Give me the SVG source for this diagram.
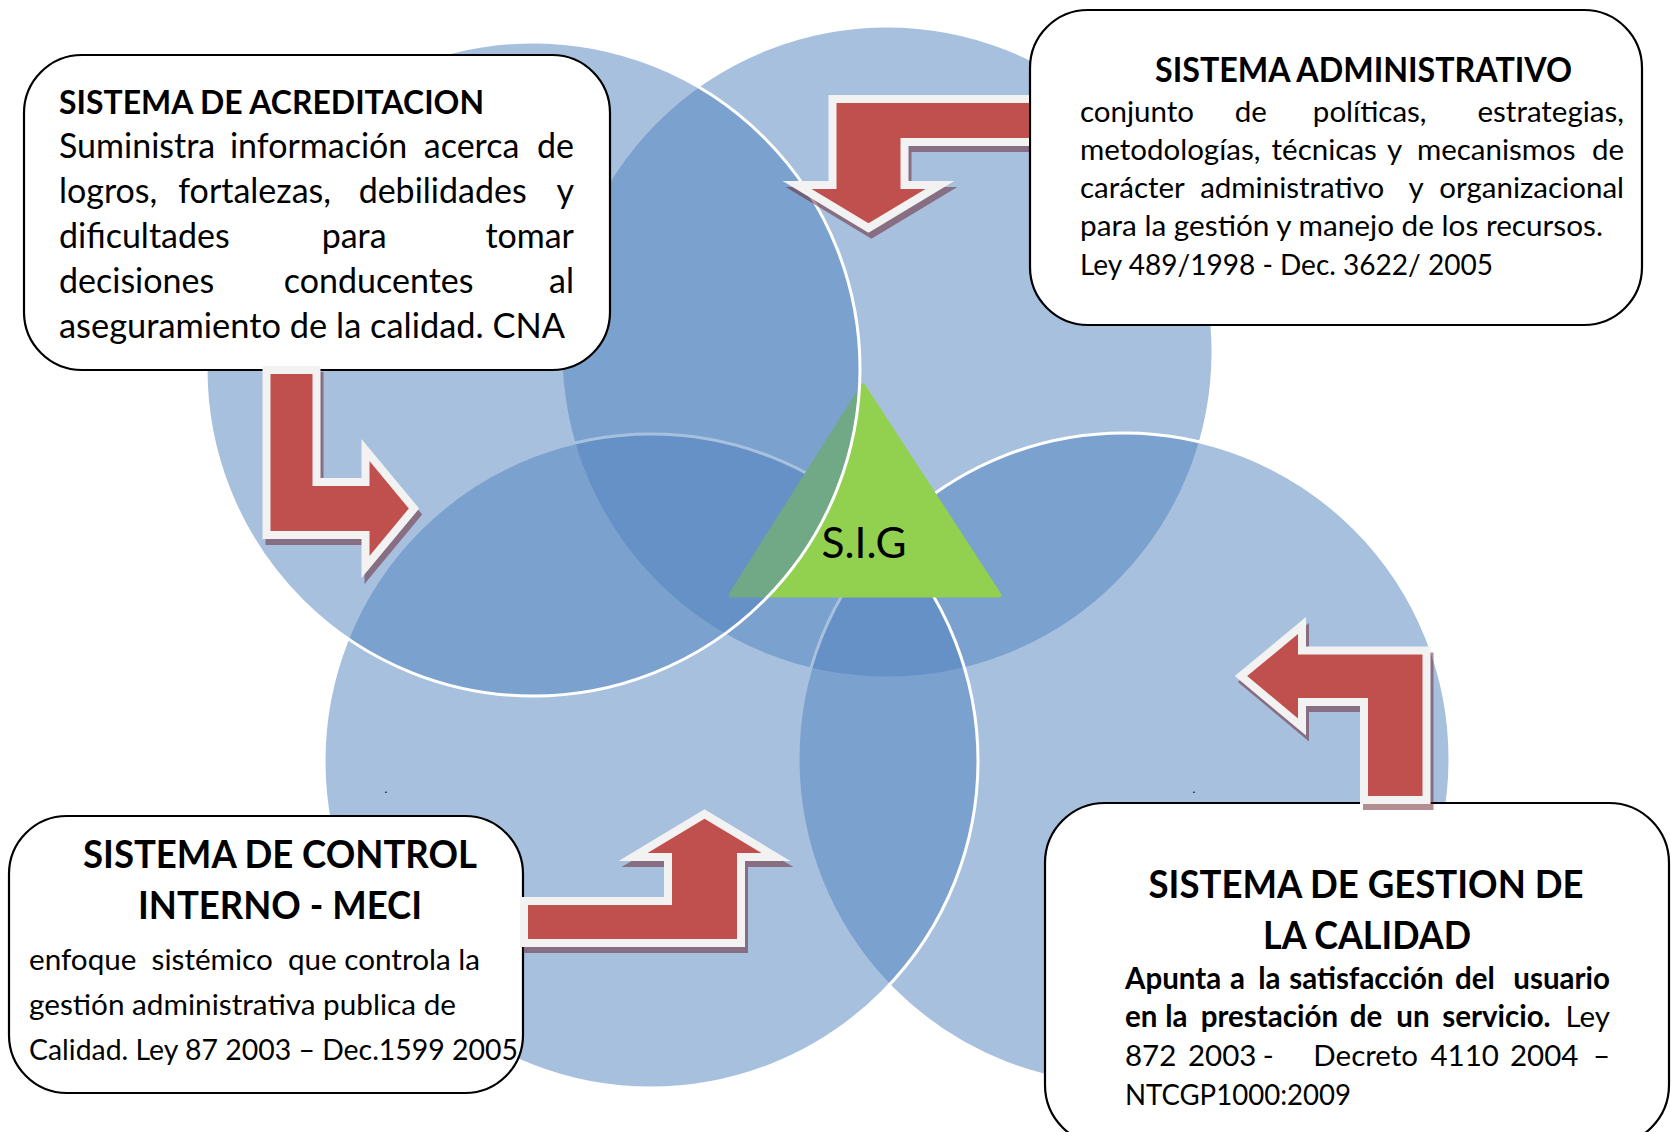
<svg xmlns="http://www.w3.org/2000/svg" xmlns:xlink="http://www.w3.org/1999/xlink" width="1671" height="1132" viewBox="0 0 1671 1132">
<style>
.circ{fill:#4F81BD;fill-opacity:0.5;stroke:#FFFFFF;stroke-width:3}
.box{fill:#FFFFFF;stroke:#000000;stroke-width:2.2}
.t{font-family:Lato,"Liberation Sans",sans-serif;fill:#000000}
.b{font-weight:bold}
.n{font-weight:normal}
.s1{font-size:34px}
.s2{font-size:29.5px}
.st1{font-size:32.5px}
.st2{font-size:34px}
.st3{font-size:39px}
.m{text-anchor:middle}
.e{text-anchor:end}
.arr{fill:#C0504D;stroke:#F2F2F2;stroke-width:8;stroke-miterlimit:10}
.shd{fill:#681F29;stroke:#681F29;stroke-width:8;stroke-miterlimit:10}
</style>
<defs>
<path id="arrA" d="M266.5 370 H316.5 V482 H365.5 V450 L414 508.5 L365.5 567 V535 H266.5 Z"/>
<path id="arrB" d="M1045 99 H832.5 V185 H797 L868.5 228 L940 185 H904.5 V142 H1045 Z"/>
<path id="arrC" d="M524 943 V901 H668 V857 H633 L704.5 814 L776 857 H741 V943 Z"/>
<path id="arrD" d="M1364 800 V702 H1302 V727 L1241 676 L1302 625.5 V650.5 H1426.5 V800 Z"/>
<clipPath id="clipB"><rect x="0" y="0" width="1029" height="400"/></clipPath>
</defs>
<rect x="0" y="0" width="1671" height="1132" fill="#FFFFFF"/>

<g id="circle-administrativo"><circle class="circ" cx="887" cy="352" r="326"/></g>
<g id="circle-calidad"><circle class="circ" cx="1124" cy="759" r="326"/></g>
<g id="circle-control"><circle class="circ" cx="651" cy="761" r="327"/></g>
<g id="sig">
<polygon points="863,386 999,595 731,595" fill="#92D050" stroke="#92D050" stroke-width="5" stroke-linejoin="round"/>
<text class="t" x="864" y="558" font-size="43" text-anchor="middle" textLength="85" lengthAdjust="spacingAndGlyphs">S.I.G</text>
</g>
<g id="circle-acreditacion"><circle class="circ" cx="533" cy="369" r="327"/></g>

<g id="box-acreditacion">
<rect class="box" x="24" y="55" width="586" height="315" rx="58" ry="58"/>
<text class="t b st1" x="59" y="114" textLength="425" lengthAdjust="spacingAndGlyphs">SISTEMA DE ACREDITACION</text>
<text class="t s1" y="158"><tspan x="59">Suministra</tspan> <tspan x="323" class="m">información</tspan> <tspan x="476" class="m">acerca</tspan> <tspan x="574" class="e">de</tspan></text>
<text class="t s1" y="203"><tspan x="59">logros,</tspan> <tspan x="259" class="m">fortalezas,</tspan> <tspan x="447" class="m">debilidades</tspan> <tspan x="574" class="e">y</tspan></text>
<text class="t s1" y="248"><tspan x="59">dificultades</tspan> <tspan x="358.5" class="m">para</tspan> <tspan x="574" class="e">tomar</tspan></text>
<text class="t s1" y="293"><tspan x="59">decisiones</tspan> <tspan x="383" class="m">conducentes</tspan> <tspan x="574" class="e">al</tspan></text>
<text class="t s1" x="59" y="338" textLength="506" lengthAdjust="spacingAndGlyphs">aseguramiento de la calidad. CNA</text>
</g>

<g id="box-administrativo">
<rect class="box" x="1030" y="10" width="612" height="315" rx="58" ry="58"/>
<text class="t b st2" x="1155" y="82" textLength="417" lengthAdjust="spacingAndGlyphs">SISTEMA ADMINISTRATIVO</text>
<text class="t s2" y="122"><tspan x="1080">conjunto</tspan> <tspan x="1254.5" class="m">de</tspan> <tspan x="1373.5" class="m">políticas,</tspan> <tspan x="1624" class="e">estrategias,</tspan></text>
<text class="t s2" y="159.5"><tspan x="1080">metodologías,</tspan> <tspan x="1328" class="m">técnicas</tspan> <tspan x="1398" class="m">y</tspan> <tspan x="1500" class="m">mecanismos</tspan> <tspan x="1624" class="e">de</tspan></text>
<text class="t s2" y="197.5"><tspan x="1080">carácter</tspan> <tspan x="1296" class="m">administrativo</tspan> <tspan x="1419.5" class="m">y</tspan> <tspan x="1624" class="e">organizacional</tspan></text>
<text class="t s2" x="1080" y="236" textLength="523" lengthAdjust="spacingAndGlyphs">para la gestión y manejo de los recursos.</text>
<text class="t s2" x="1080" y="275" textLength="413" lengthAdjust="spacingAndGlyphs">Ley 489/1998 - Dec. 3622/ 2005</text>
</g>

<g id="box-control">
<rect class="box" x="9" y="816" width="514" height="277" rx="58" ry="58"/>
<text class="t b st3 m" x="280" y="868" textLength="394" lengthAdjust="spacingAndGlyphs">SISTEMA DE CONTROL</text>
<text class="t b st3 m" x="280" y="919" textLength="284" lengthAdjust="spacingAndGlyphs">INTERNO - MECI</text>
<text class="t s2" x="29" y="970" textLength="451" lengthAdjust="spacingAndGlyphs" xml:space="preserve">enfoque  sistémico  que controla la</text>
<text class="t s2" x="29" y="1015" textLength="427" lengthAdjust="spacingAndGlyphs">gestión administrativa publica de</text>
<text class="t s2" x="29" y="1060" textLength="489" lengthAdjust="spacingAndGlyphs">Calidad. Ley 87 2003 – Dec.1599 2005</text>
</g>

<g id="box-calidad">
<rect class="box" x="1045" y="803" width="624" height="342" rx="60" ry="60"/>
<text class="t b st3 m" x="1366" y="898" textLength="435" lengthAdjust="spacingAndGlyphs">SISTEMA DE GESTION DE</text>
<text class="t b st3 m" x="1367" y="949" textLength="208" lengthAdjust="spacingAndGlyphs">LA CALIDAD</text>
<text class="t b s2" y="989"><tspan x="1125">Apunta</tspan> <tspan x="1241" class="m">a</tspan> <tspan x="1273" class="m">la</tspan> <tspan x="1370" class="m">satisfacción</tspan> <tspan x="1478.5" class="m">del</tspan> <tspan x="1610" class="e">usuario</tspan></text>
<text class="t b s2" y="1027"><tspan x="1125">en</tspan> <tspan x="1180" class="m">la</tspan> <tspan x="1273" class="m">prestación</tspan> <tspan x="1369.5" class="m">de</tspan> <tspan x="1416.5" class="m">un</tspan> <tspan x="1500" class="m">servicio.</tspan> <tspan x="1610" class="e n">Ley</tspan></text>
<text class="t s2" y="1066"><tspan x="1125">872</tspan> <tspan x="1188">2003</tspan> <tspan x="1272" class="m">-</tspan> <tspan x="1369.5" class="m">Decreto</tspan> <tspan x="1468.5" class="m">4110</tspan> <tspan x="1548" class="m">2004</tspan> <tspan x="1610" class="e">–</tspan></text>
<text class="t s2" x="1125" y="1105" textLength="226" lengthAdjust="spacingAndGlyphs">NTCGP1000:2009</text>
</g>

<g id="connectors">
<g clip-path="url(#clipB)">
<use xlink:href="#arrB" class="shd" opacity="0.5" transform="translate(3,6)"/>
<use xlink:href="#arrB" class="arr"/>
</g>
<use xlink:href="#arrA" class="shd" opacity="0.5" transform="translate(3,6)"/>
<use xlink:href="#arrA" class="arr"/>
<use xlink:href="#arrC" class="shd" opacity="0.5" transform="translate(3,6)"/>
<use xlink:href="#arrC" class="arr"/>
<use xlink:href="#arrD" class="shd" opacity="0.5" transform="translate(3,6)"/>
<use xlink:href="#arrD" class="arr"/>
</g>

<text class="t" x="384.5" y="793" font-size="12">.</text>
<text class="t" x="1192.5" y="793" font-size="12">.</text>
</svg>
